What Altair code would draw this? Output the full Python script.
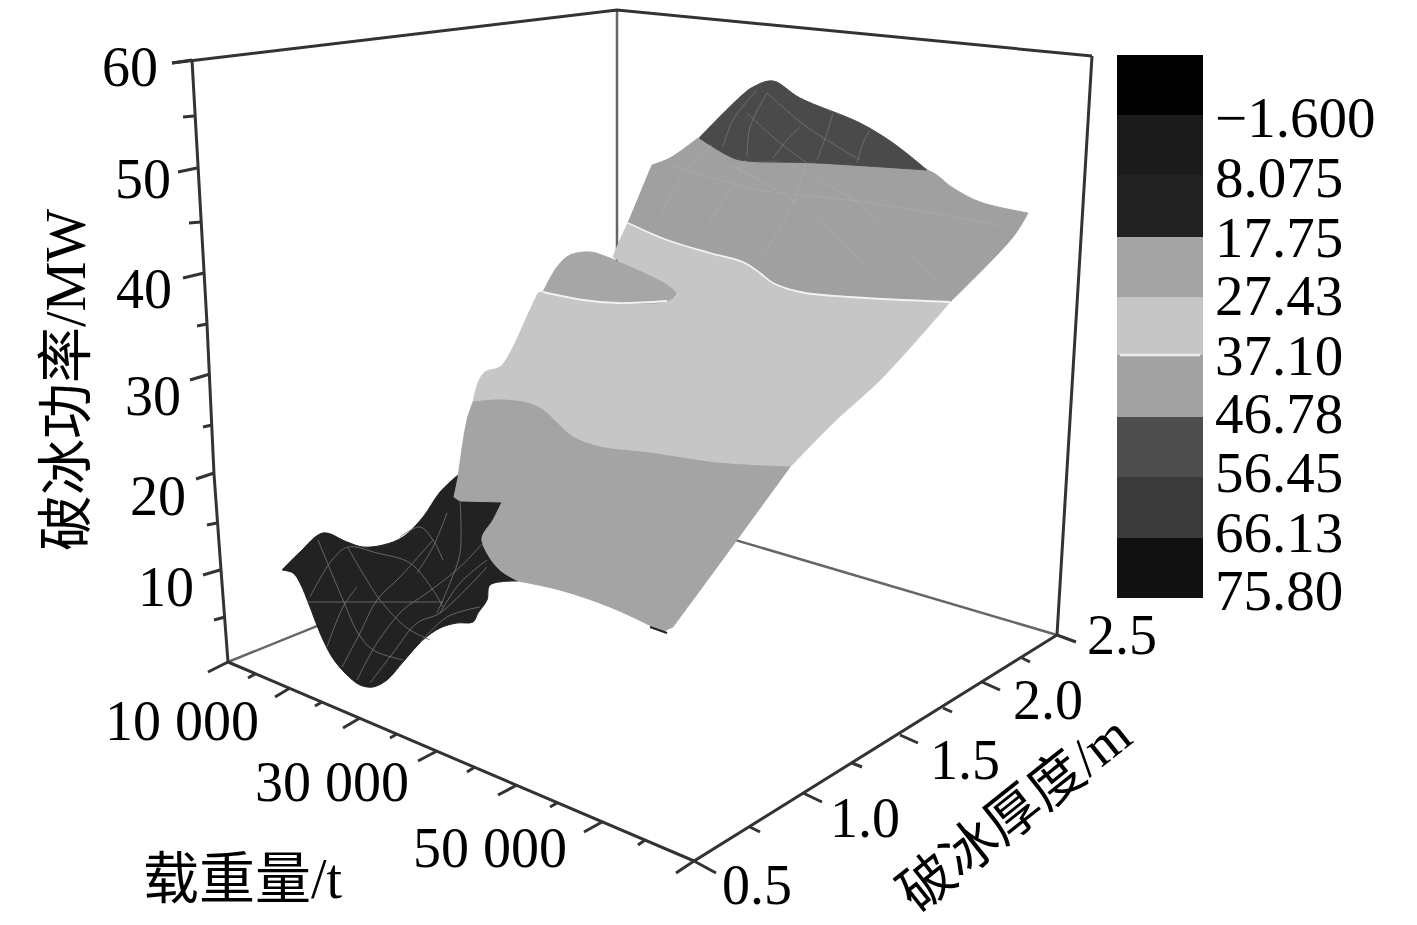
import altair as alt
import pandas as pd

# A point written twice in an outline is a sharp corner of that outline.
SERIF = "Liberation Serif, Noto Sans CJK SC"

band_tops = [55, 115, 175, 237, 297, 355, 417, 477, 538]
band_bottoms = [115, 175, 237, 297, 355, 417, 477, 538, 598]
band_grays = ["#000000", "#1b1b1b", "#222222", "#a4a4a4", "#c6c6c6", "#a2a2a2", "#4e4e4e", "#3a3a3a", "#111111"]
band_labels = ["\u22121.600", "8.075", "17.75", "27.43", "37.10", "46.78", "56.45", "66.13", "75.80"]
band_label_y = [137, 197, 257, 315, 375, 433, 492, 552, 610]

dark_front = [(282,570),(282,570),(300,552),(323,533),(347,542),(363,547),(383,545),(403,537),(423,517),(440,492),(458,475),(458,475),
              (454,497),(454,497),(460,501),(460,501),(502,502),(502,502),(493,520),(482,538),(487,553),(500,570),(518,581),(518,581),
              (490,585),(487,600),(478,613),(473,622),(457,623),(440,628),(423,640),(403,662),(387,680),(373,687),
              (360,685),(345,673),(332,657),(320,633),(310,607),(300,583),(293,573)]
gray_front = [(473,402),(473,402),(500,400),(527,403),(543,410),(557,423),(573,437),(600,447),(650,453),(717,463),(790,467),(790,467),
              (755,515),(720,563),(673,627),(673,627),(662,632),(662,632),(653,627),(610,607),(560,590),(518,581),(518,581),
              (500,570),(487,553),(482,538),(493,520),(502,502),(502,502),(460,501),(460,501),(454,497),(454,497),(458,478),(458,478),(467,420)]
light_mid = [(628,223),(628,223),(667,240),(710,253),(743,262),(760,273),(773,283),(800,292),(850,297),(950,302),(950,302),
             (883,377),(833,423),(790,467),(790,467),(717,463),(650,453),(600,447),(573,437),(557,423),(543,410),(527,403),
             (500,400),(473,402),(473,402),(478,383),(485,372),(500,367),(510,353),(530,310),(538,293),(538,293),
             (543,292),(543,292),(583,300),(617,303),(667,301),(677,295),(667,285),(637,270),(613,257),(613,257),(620,240)]
gray_lobe = [(543,292),(543,292),(557,267),(570,255),(590,252),(607,257),(637,270),(667,285),(676,294),(667,301),(617,303),(583,300)]
gray_upper = [(628,223),(628,223),(652,165),(652,165),(670,158),(698,138),(698,138),(727,155),(740,160),(817,163),(927,170),(953,188),(980,202),
              (1028,213),(1028,213),(1013,237),(950,302),(950,302),(850,297),(800,292),(773,283),(760,273),(743,262),(710,253),(667,240)]
dark_top = [(699,138),(699,138),(740,97),(753,87),(773,81),(800,98),(860,123),(893,143),(927,170),(927,170),(817,163),(740,160),(727,155)]

contour_white = [[(628,223),(667,240),(710,253),(743,262),(760,273),(773,283),(800,292),(850,297),(950,302)],
                 [(543,292),(583,300),(617,303),(667,301)]]
mesh_dark = [[(318,540),(343,600),(358,633),(373,650),(403,660)],
             [(348,548),(365,577),(380,600),(407,628),(430,640)],
             [(310,597),(332,560),(348,547),(377,553),(410,563),(433,590),(443,607)],
             [(327,647),(343,607),(357,587)],
             [(342,667),(360,633),(377,600),(400,577),(433,540)],
             [(357,680),(377,643),(403,610),(427,593),(460,567),(483,543)],
             [(370,683),(393,653),(417,623),(440,613),(487,567)],
             [(437,613),(450,583),(460,553),(460,500)],
             [(420,643),(447,617),(480,607)],
             [(400,537),(420,527),(433,540),(443,560)],
             [(440,613),(460,583),(487,560)],
             [(447,513),(433,547),(417,573)],
             [(307,602),(443,602)],
             [(723,147),(733,120),(757,90)],
             [(747,157),(750,127),(767,93)],
             [(773,158),(787,140),(800,127)],
             [(747,113),(780,143),(807,163)],
             [(767,93),(807,127),(860,160)],
             [(817,160),(827,133),(833,113)],
             [(857,163),(863,143),(870,130)]]
mesh_upper = [[(660,215),(690,165),(712,145)],
              [(700,235),(730,190),(745,160)],
              [(760,260),(790,210),(805,165)],
              [(730,165),(800,205),(870,270)],
              [(790,165),(860,205),(940,285)],
              [(670,165),(760,190),(850,200),(1000,225)]]

box_lines = [[(172,63),(617,10),(1092,56)],
             [(192,60),(207,324),(214,474),(221,570),(228,662)],
             [(228,662),(694,861),(1057,635),(1092,56)]]
box_back = [[(617,10),(617,505)],
            [(228,662),(617,505),(1057,635)]]
tick_marks = [[(192,60),(172,63)],[(194,116),(183,117)],[(197,168),(178,172)],[(201,222),(189,223)],
              [(204,273),(183,278)],[(207,324),(197,326)],[(210,374),(190,380)],[(212,425),(203,427)],
              [(214,473),(196,479)],[(217,523),(207,525)],[(220,570),(203,575)],[(225,617),(214,620)],
              [(228,662),(208,672)],
              [(255,674),(248,678)],[(290,688),(275,697)],[(322,702),(315,706)],[(360,718),(343,728)],
              [(397,734),(390,738)],[(437,751),(418,761)],[(475,767),(467,772)],[(517,785),(498,795)],
              [(557,803),(550,807)],[(602,822),(584,832)],[(645,840),(638,845)],[(694,861),(676,873)],
              [(694,861),(716,873)],[(750,827),(760,832)],[(803,793),(822,802)],[(852,763),(862,767)],
              [(900,735),(918,743)],[(943,708),(952,712)],[(982,682),(1000,690)],[(1022,658),(1030,662)],
              [(1057,635),(1076,642)]]
edge_tip = [[(650,627),(667,633)]]

z_labels = ["60", "50", "40", "30", "20", "10"]
z_label_x = [102, 115, 116, 125, 130, 138]
z_label_y = [86, 198, 308, 415, 515, 606]
load_labels = ["10 000", "30 000", "50 000"]
load_label_x = [105, 255, 413]
load_label_y = [740, 801, 867]
thick_labels = ["0.5", "1.0", "1.5", "2.0", "2.5"]
thick_label_x = [722, 830, 930, 1013, 1087]
thick_label_y = [904, 837, 779, 719, 654]

PAD = 8
X = alt.Scale(domain=[PAD, 1417 - PAD], range=[0, 1401])
Y = alt.Scale(domain=[PAD, 925], range=[0, 917])


def enc():
    return dict(x=alt.X("x:Q", scale=X, axis=None), y=alt.Y("y:Q", scale=Y, axis=None))


def poly_layer(points, fill):
    df = pd.DataFrame({"x": [p[0] for p in points] + [points[0][0]],
                       "y": [p[1] for p in points] + [points[0][1]]})
    df["i"] = range(len(df))
    return alt.Chart(df).mark_line(filled=True, fill=fill, stroke=fill, strokeWidth=1, interpolate="catmull-rom").encode(
        order="i:Q", **enc())


def lines_layer(paths, color, width, opacity=1.0, interpolate="linear"):
    rows = [{"g": g, "i": i, "x": p[0], "y": p[1]} for g, path in enumerate(paths) for i, p in enumerate(path)]
    return alt.Chart(pd.DataFrame(rows)).mark_line(color=color, strokeWidth=width, opacity=opacity,
                                                   interpolate=interpolate).encode(
        detail="g:N", order="i:Q", **enc())


def text_layer(labels, xs, ys, **kw):
    df = pd.DataFrame({"t": labels, "x": xs, "y": ys})
    opts = dict(font=SERIF, fontSize=56, color="#000000", align="left", baseline="alphabetic")
    opts.update(kw)
    return alt.Chart(df).mark_text(**opts).encode(text="t:N", **enc())


band_df = pd.DataFrame({"x": [1117] * 9, "x2": [1203] * 9, "y": band_tops, "y2": band_bottoms, "c": band_grays})
colorbar = alt.Chart(band_df).mark_rect().encode(
    x=alt.X("x:Q", scale=X, axis=None), x2="x2:Q",
    y=alt.Y("y:Q", scale=Y, axis=None), y2="y2:Q",
    fill=alt.Fill("c:N", scale=None))
colorbar_sep = lines_layer([[(1120, 355), (1200, 355)]], "#eeeeee", 2.5)

layers = [
    lines_layer(box_back, "#666666", 2.5),
    poly_layer(gray_upper, "#a0a0a0"),
    poly_layer(dark_top, "#4a4a4a"),
    poly_layer(light_mid, "#c6c6c6"),
    poly_layer(gray_lobe, "#a6a6a6"),
    poly_layer(dark_front, "#222222"),
    poly_layer(gray_front, "#a4a4a4"),
    lines_layer(mesh_upper, "#b8b8b8", 1, 0.35, "catmull-rom"),
    lines_layer(mesh_dark, "#777777", 1, 0.8, "catmull-rom"),
    lines_layer(contour_white, "#f2f2f2", 1.8, 1.0, "catmull-rom"),
    lines_layer(edge_tip, "#222222", 2),
    lines_layer(box_lines, "#333333", 3),
    lines_layer(tick_marks, "#333333", 3),
    colorbar,
    colorbar_sep,
    text_layer(band_labels, [1215] * 9, band_label_y, fontSize=57),
    text_layer(z_labels, z_label_x, z_label_y),
    text_layer(load_labels, load_label_x, load_label_y),
    text_layer(thick_labels, thick_label_x, thick_label_y),
    text_layer(["载重量/t"], [143], [898]),
    text_layer(["破冰功率/MW"], [85], [380], angle=270, align="center"),
    text_layer(["破冰厚度/m"], [1026], [828], angle=321.5, align="center", fontSize=55),
]

chart = alt.layer(*layers).properties(
    width=1401, height=917, padding=0, background="#ffffff", autosize=alt.AutoSizeParams(type="none")
).configure_view(strokeWidth=0, stroke="transparent")
chart.save("out.html", embed_options={"renderer": "svg", "actions": False})
